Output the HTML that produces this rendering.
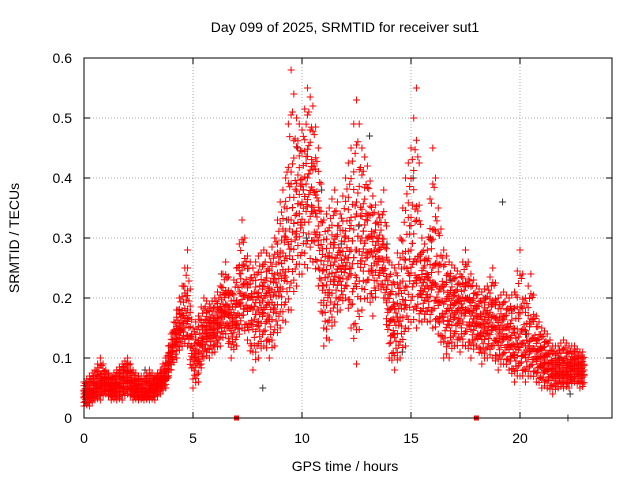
<!DOCTYPE html>
<html><head><meta charset="utf-8"><style>
body{margin:0;background:#fff;}
svg{display:block;font-family:"Liberation Sans",sans-serif;}
</style></head><body>
<svg id="chart" width="640" height="480" viewBox="0 0 640 480">
<rect width="640" height="480" fill="#fff"/>
<text x="345" y="32" font-size="14" text-anchor="middle">Day 099 of 2025, SRMTID for receiver sut1</text>
<text transform="translate(19,238) rotate(-90)" font-size="14" text-anchor="middle">SRMTID / TECUs</text>
<text x="345" y="471" font-size="14" text-anchor="middle">GPS time / hours</text>
<g id="grid"></g><g id="marks"></g>
<rect x="84" y="58" width="528" height="360" fill="none" stroke="#000" stroke-width="1"/>
<g id="axes"></g>
</svg>
<script>
const times=[];for(let i=0;i<92;i++)times.push(i*0.25);
const lo=[.02,.02,.03,.03,.04,.03,.03,.03,.04,.03,.03,.03,.03,.03,.04,.05,.08,.10,.12,.12,.05,.06,.10,.10,.11,.12,.14,.10,.12,.15,.13,.08,.10,.12,.10,.12,.15,.16,.18,.22,.24,.25,.26,.22,.12,.13,.16,.18,.20,.15,.09,.18,.20,.17,.22,.20,.10,.08,.10,.12,.16,.15,.16,.16,.15,.14,.10,.10,.12,.11,.12,.10,.12,.09,.10,.10,.08,.09,.08,.06,.07,.06,.07,.06,.05,.05,.04,.05,.05,.05,.06,.05];
const mid=[.04,.04,.05,.06,.06,.05,.05,.06,.07,.05,.05,.04,.05,.05,.06,.07,.11,.14,.16,.18,.10,.11,.14,.15,.15,.17,.19,.16,.17,.22,.20,.18,.18,.20,.19,.21,.24,.27,.33,.34,.36,.40,.38,.32,.22,.24,.26,.25,.27,.28,.28,.30,.30,.27,.28,.26,.18,.16,.19,.22,.28,.26,.22,.22,.25,.21,.19,.18,.19,.18,.20,.17,.17,.15,.16,.17,.14,.15,.13,.12,.14,.12,.13,.11,.10,.09,.08,.08,.08,.08,.09,.08];
const hi=[.06,.07,.08,.10,.08,.07,.08,.09,.10,.08,.07,.07,.08,.07,.08,.10,.14,.18,.22,.28,.15,.17,.20,.19,.20,.22,.26,.21,.25,.33,.27,.25,.27,.28,.27,.30,.36,.40,.58,.50,.48,.55,.52,.45,.33,.35,.38,.34,.40,.45,.53,.45,.42,.37,.34,.38,.26,.25,.30,.40,.45,.55,.30,.28,.45,.35,.28,.26,.25,.24,.28,.24,.22,.21,.22,.25,.20,.21,.20,.21,.28,.20,.24,.17,.15,.14,.12,.12,.13,.12,.12,.11];
const blackT=[2.8,4.5,6.3,8.2,9.3,9.8,10.2,10.9,11.8,12.6,13.1,13.9,14.6,15.1,15.9,16.8,17.6,18.4,19.2,19.6,20.3,21.1,21.8,22.3];
const blackV=[.08,.15,.24,.05,.33,.45,.30,.38,.29,.32,.47,.29,.11,.40,.30,.23,.20,.20,.36,.18,.14,.08,.10,.04];
const xTicks=[0,5,10,15,20];const yTicks=[0,0.1,0.2,0.3,0.4,0.5,0.6];
const NS='http://www.w3.org/2000/svg';
const X=t=>84+t*21.8, Y=v=>418-v*600;
function plus(g,cx,cy,c,name){const p=document.createElementNS(NS,'path');
p.setAttribute('d',`M${cx-3.5},${cy}h7M${cx},${cy-3.5}v7`);p.setAttribute('stroke',c);p.setAttribute('stroke-width','1');


g.appendChild(p);}
const grid=document.getElementById('grid'),axes=document.getElementById('axes'),marks=document.getElementById('marks');
xTicks.forEach(t=>{const x=X(t);
if(t>0){const l=document.createElementNS(NS,'line');l.setAttribute('x1',x);l.setAttribute('x2',x);l.setAttribute('y1',58);l.setAttribute('y2',418);l.setAttribute('stroke','#aaa');l.setAttribute('stroke-dasharray','1,2');

grid.appendChild(l);}
const tk=document.createElementNS(NS,'path');tk.setAttribute('d',`M${x},418v-6M${x},58v6`);tk.setAttribute('stroke','#000');

axes.appendChild(tk);
const tx=document.createElementNS(NS,'text');tx.setAttribute('x',x);tx.setAttribute('y',443);tx.setAttribute('font-size','14');tx.setAttribute('text-anchor','middle');tx.textContent=t;

axes.appendChild(tx);});
yTicks.forEach(v=>{const y=Y(v);
if(v>0&&v<0.6){const l=document.createElementNS(NS,'line');l.setAttribute('x1',84);l.setAttribute('x2',612);l.setAttribute('y1',y);l.setAttribute('y2',y);l.setAttribute('stroke','#aaa');l.setAttribute('stroke-dasharray','1,2');

grid.appendChild(l);}
const tk=document.createElementNS(NS,'path');tk.setAttribute('d',`M84,${y}h6M612,${y}h-6`);tk.setAttribute('stroke','#000');

axes.appendChild(tk);
const tx=document.createElementNS(NS,'text');tx.setAttribute('x',72);tx.setAttribute('y',y+5);tx.setAttribute('font-size','14');tx.setAttribute('text-anchor','end');tx.textContent=v===0?'0':v.toFixed(1);

axes.appendChild(tx);});
blackT.forEach((t,i)=>plus(marks,X(t),Y(blackV[i]),'#333','black-point'));
const fracs=[0,0.15,0.3,0.42,0.5,0.58,0.7,0.85,1];
times.forEach((t,i)=>{
  const n=i+1<times.length?i+1:i;
  for(let s=0;s<4;s++){
    const w=s/4;
    const a=lo[i]*(1-w)+lo[n]*w, m=mid[i]*(1-w)+mid[n]*w, h=hi[i]*(1-w)+hi[n]*w;
    fracs.forEach((f,k)=>{
      const ff=Math.min(1,Math.max(0,f+((s+k)%3-1)*0.04));
      const v=ff<=0.5? a+(m-a)*ff*2 : m+(h-m)*(ff-0.5)*2;
      if((f===0||f===1)&&s%2===1)return;
      plus(marks,X(t+s*0.0625),Y(v),'#f00','red-point');
    });
  }
});
[7,18].forEach(t=>{const r=document.createElementNS(NS,'rect');r.setAttribute('x',X(t)-2.5);r.setAttribute('y',415.5);r.setAttribute('width',5);r.setAttribute('height',5);r.setAttribute('fill','#f00');

marks.appendChild(r);});
plus(marks,X(22.2),418,'#333','axis-black-point');
</script>
</body></html>
